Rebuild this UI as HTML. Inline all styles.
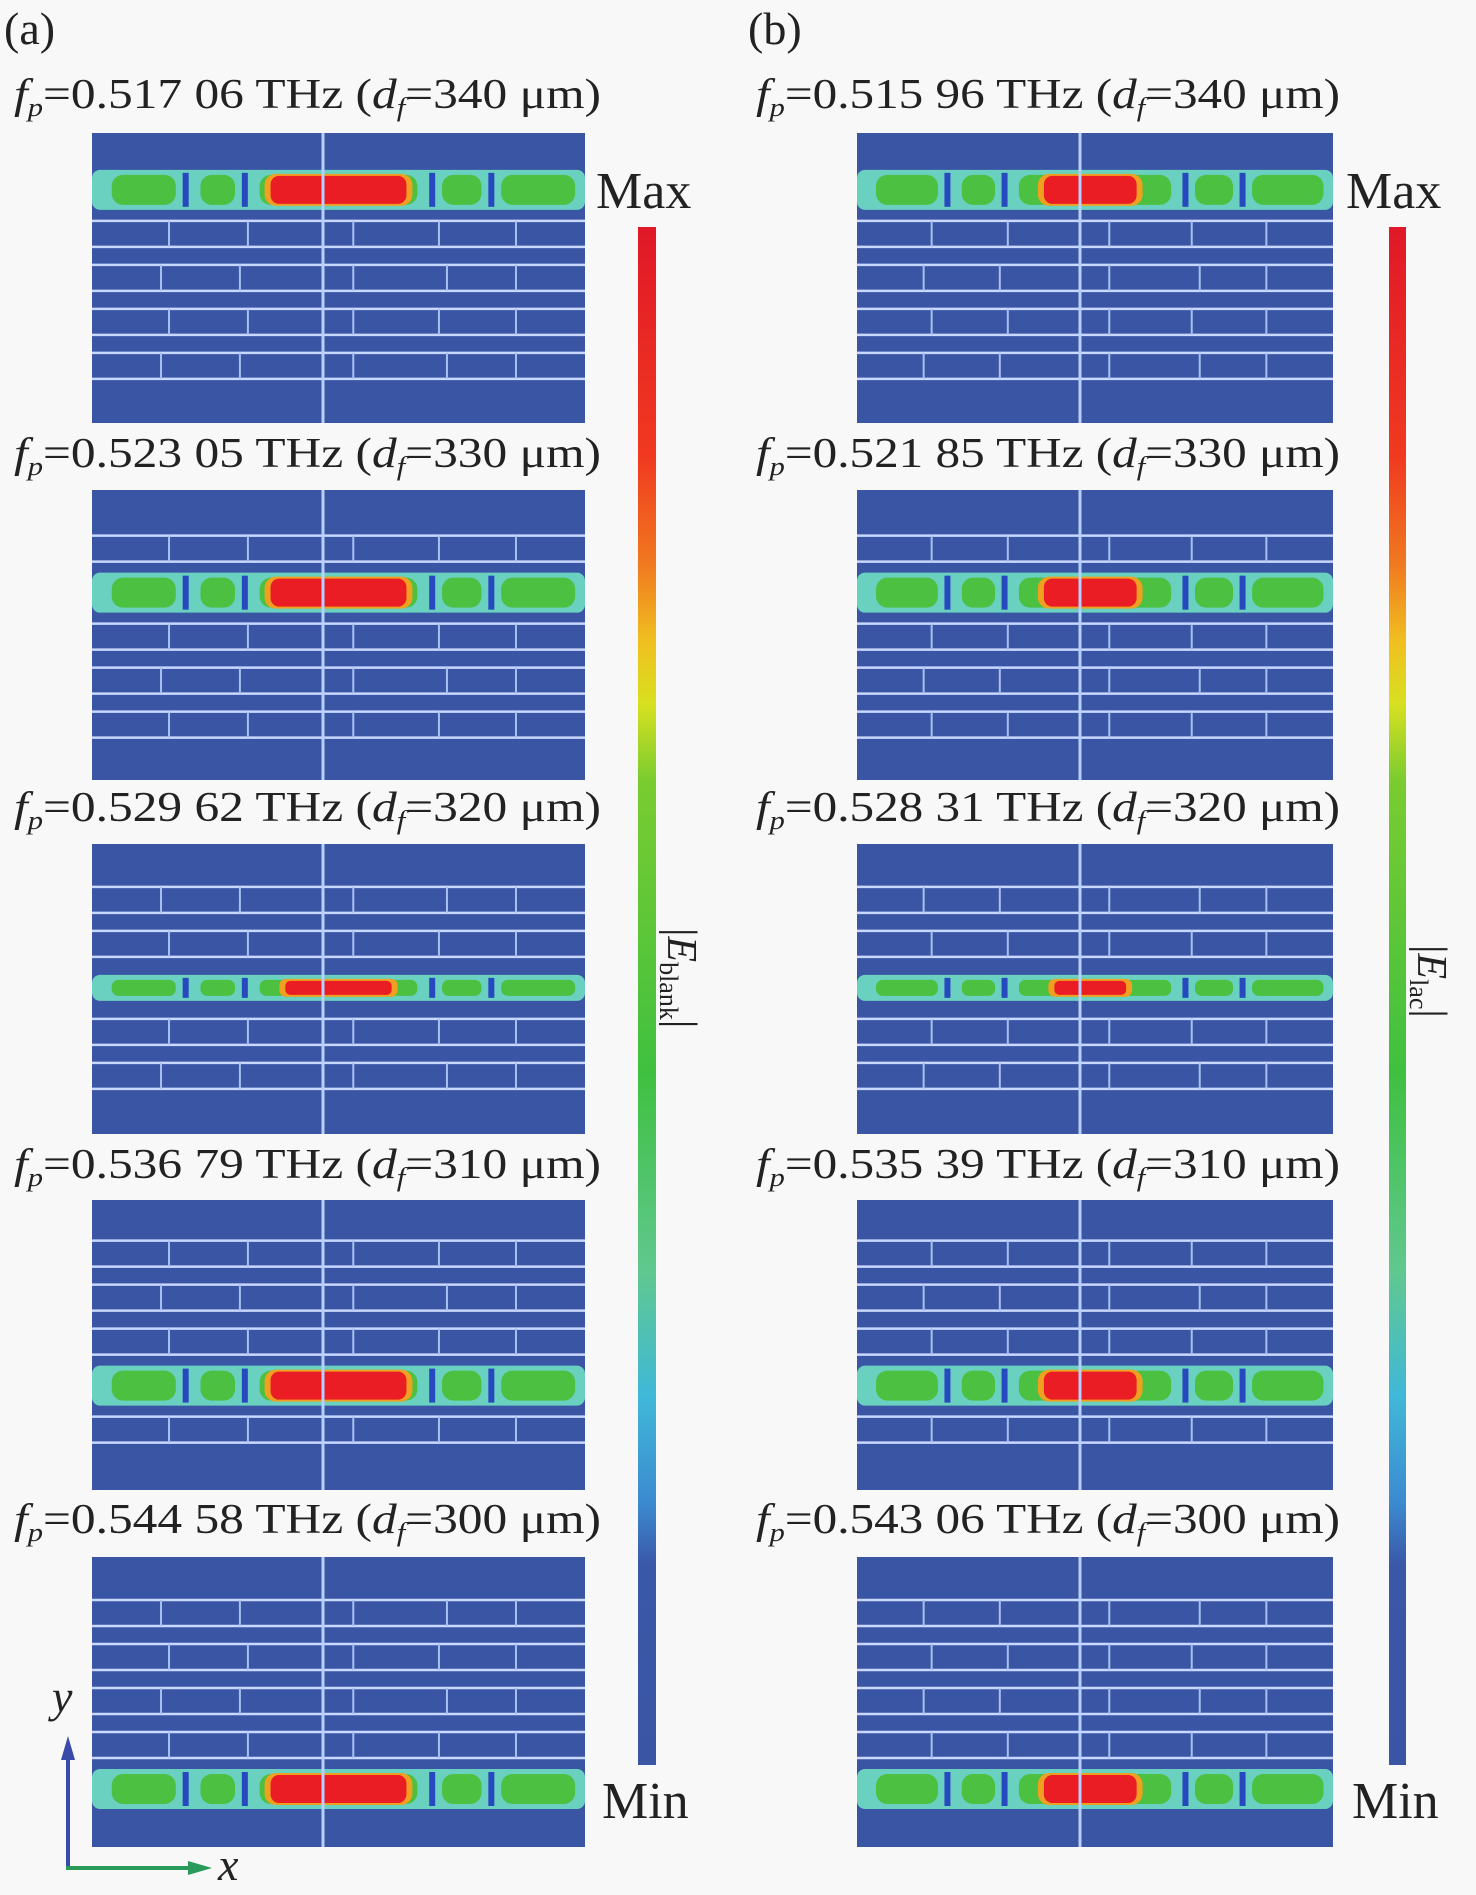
<!DOCTYPE html>
<html><head><meta charset="utf-8"><style>
html,body{margin:0;padding:0;background:#f8f8f8}
svg{display:block}
text{font-family:"Liberation Serif",serif;fill:#222}
</style></head><body>
<svg id="s" width="1476" height="1895" viewBox="0 0 1476 1895" xmlns="http://www.w3.org/2000/svg">
<defs>
<linearGradient id="cb" x1="0" y1="0" x2="0" y2="1">
<stop offset="0" stop-color="#e01828"/><stop offset="0.15" stop-color="#f03a20"/>
<stop offset="0.22" stop-color="#f07a20"/><stop offset="0.27" stop-color="#f0c020"/>
<stop offset="0.31" stop-color="#d8e020"/><stop offset="0.36" stop-color="#7acc30"/>
<stop offset="0.55" stop-color="#40c040"/><stop offset="0.68" stop-color="#60c890"/>
<stop offset="0.76" stop-color="#40b8d8"/><stop offset="0.83" stop-color="#3c8ad0"/>
<stop offset="0.87" stop-color="#3a58a8"/><stop offset="1" stop-color="#3a55a4"/>
</linearGradient>
</defs>
<g id="g"></g>
<text x="4" y="44" font-size="46">(a)</text>
<text x="748" y="44" font-size="46">(b)</text>
<g font-size="42">
<text x="14" y="108" textLength="587" lengthAdjust="spacingAndGlyphs"><tspan font-style="italic">f</tspan><tspan font-style="italic" font-size="26" dy="8">p</tspan><tspan dy="-8">=0.517 06 THz (</tspan><tspan font-style="italic">d</tspan><tspan font-style="italic" font-size="26" dy="8">f</tspan><tspan dy="-8">=340 μm)</tspan></text>
<text x="14" y="467" textLength="587" lengthAdjust="spacingAndGlyphs"><tspan font-style="italic">f</tspan><tspan font-style="italic" font-size="26" dy="8">p</tspan><tspan dy="-8">=0.523 05 THz (</tspan><tspan font-style="italic">d</tspan><tspan font-style="italic" font-size="26" dy="8">f</tspan><tspan dy="-8">=330 μm)</tspan></text>
<text x="14" y="821" textLength="587" lengthAdjust="spacingAndGlyphs"><tspan font-style="italic">f</tspan><tspan font-style="italic" font-size="26" dy="8">p</tspan><tspan dy="-8">=0.529 62 THz (</tspan><tspan font-style="italic">d</tspan><tspan font-style="italic" font-size="26" dy="8">f</tspan><tspan dy="-8">=320 μm)</tspan></text>
<text x="14" y="1178" textLength="587" lengthAdjust="spacingAndGlyphs"><tspan font-style="italic">f</tspan><tspan font-style="italic" font-size="26" dy="8">p</tspan><tspan dy="-8">=0.536 79 THz (</tspan><tspan font-style="italic">d</tspan><tspan font-style="italic" font-size="26" dy="8">f</tspan><tspan dy="-8">=310 μm)</tspan></text>
<text x="14" y="1533" textLength="587" lengthAdjust="spacingAndGlyphs"><tspan font-style="italic">f</tspan><tspan font-style="italic" font-size="26" dy="8">p</tspan><tspan dy="-8">=0.544 58 THz (</tspan><tspan font-style="italic">d</tspan><tspan font-style="italic" font-size="26" dy="8">f</tspan><tspan dy="-8">=300 μm)</tspan></text>
<text x="756" y="108" textLength="584" lengthAdjust="spacingAndGlyphs"><tspan font-style="italic">f</tspan><tspan font-style="italic" font-size="26" dy="8">p</tspan><tspan dy="-8">=0.515 96 THz (</tspan><tspan font-style="italic">d</tspan><tspan font-style="italic" font-size="26" dy="8">f</tspan><tspan dy="-8">=340 μm)</tspan></text>
<text x="756" y="467" textLength="584" lengthAdjust="spacingAndGlyphs"><tspan font-style="italic">f</tspan><tspan font-style="italic" font-size="26" dy="8">p</tspan><tspan dy="-8">=0.521 85 THz (</tspan><tspan font-style="italic">d</tspan><tspan font-style="italic" font-size="26" dy="8">f</tspan><tspan dy="-8">=330 μm)</tspan></text>
<text x="756" y="821" textLength="584" lengthAdjust="spacingAndGlyphs"><tspan font-style="italic">f</tspan><tspan font-style="italic" font-size="26" dy="8">p</tspan><tspan dy="-8">=0.528 31 THz (</tspan><tspan font-style="italic">d</tspan><tspan font-style="italic" font-size="26" dy="8">f</tspan><tspan dy="-8">=320 μm)</tspan></text>
<text x="756" y="1178" textLength="584" lengthAdjust="spacingAndGlyphs"><tspan font-style="italic">f</tspan><tspan font-style="italic" font-size="26" dy="8">p</tspan><tspan dy="-8">=0.535 39 THz (</tspan><tspan font-style="italic">d</tspan><tspan font-style="italic" font-size="26" dy="8">f</tspan><tspan dy="-8">=310 μm)</tspan></text>
<text x="756" y="1533" textLength="584" lengthAdjust="spacingAndGlyphs"><tspan font-style="italic">f</tspan><tspan font-style="italic" font-size="26" dy="8">p</tspan><tspan dy="-8">=0.543 06 THz (</tspan><tspan font-style="italic">d</tspan><tspan font-style="italic" font-size="26" dy="8">f</tspan><tspan dy="-8">=300 μm)</tspan></text>
<text x="596" y="208" font-size="52">Max</text>
<text x="602" y="1818" font-size="52">Min</text>
<text x="1346" y="208" font-size="52">Max</text>
<text x="1352" y="1818" font-size="52">Min</text>
</g>
<rect x="638" y="227" width="18" height="1538" fill="url(#cb)"/>
<rect x="1389" y="227" width="17" height="1538" fill="url(#cb)"/>
<text font-size="42" transform="translate(668,928) rotate(90)">|<tspan font-style="italic">E</tspan><tspan font-size="26" dy="8">blank</tspan><tspan dy="-8">|</tspan></text>
<text font-size="42" transform="translate(1418,945) rotate(90)">|<tspan font-style="italic">E</tspan><tspan font-size="26" dy="8">lac</tspan><tspan dy="-8">|</tspan></text>
<line x1="68" y1="1868" x2="68" y2="1750" stroke="#3a4aa8" stroke-width="4"/>
<polygon points="68,1736 61,1760 75,1760" fill="#3a4aa8"/>
<line x1="66" y1="1868" x2="196" y2="1868" stroke="#2a9a5a" stroke-width="4"/>
<polygon points="212,1868 188,1861 188,1875" fill="#2a9a5a"/>
<text x="52" y="1712" font-size="46" font-style="italic">y</text>
<text x="218" y="1880" font-size="46" font-style="italic">x</text>
</svg>
<script>
var g=document.getElementById('g'),h='';
var tops=[133,490,844,1200,1557],ph=290;
var bandF=[0.196,0.354,0.496,0.64,0.8];
var P=[{x0:92,x1:585,cl:323},{x0:857,x1:1333,cl:1080}];
P.forEach(function(p,pi){
 var w=p.x1-p.x0;
 tops.forEach(function(t,ri){
  h+='<rect x="'+p.x0+'" y="'+t+'" width="'+w+'" height="'+ph+'" fill="#3a55a4"/>';
  var by=t+bandF[ri]*ph;
  for(var k=-6;k<=6;k++){ if(k==0)continue;
   var cy=by+k*44; if(cy-13<t+4||cy+13>t+ph-4)continue;
   h+='<line x1="'+p.x0+'" x2="'+p.x1+'" y1="'+(cy-13)+'" y2="'+(cy-13)+'" stroke="#c8d8ff" stroke-width="2.5"/>';
   h+='<line x1="'+p.x0+'" x2="'+p.x1+'" y1="'+(cy+13)+'" y2="'+(cy+13)+'" stroke="#c8d8ff" stroke-width="2.5"/>';
   var off=(k%2?8:0);
   [0.14+off/w,0.30+off/w,0.53,0.72-off/w,0.86].forEach(function(f){var x=p.x0+f*w;
    h+='<line x1="'+x+'" x2="'+x+'" y1="'+(cy-13)+'" y2="'+(cy+13)+'" stroke="#a8c0f0" stroke-width="2"/>';});
  }
  var bh=ri==2?20:34;
  h+='<rect x="'+p.x0+'" y="'+(by-bh/2-3)+'" width="'+w+'" height="'+(bh+6)+'" rx="8" fill="#6ad0c0"/>';
  var blobs=[[0.04,0.17],[0.22,0.29],[0.34,0.66],[0.71,0.79],[0.83,0.98]];
  blobs.forEach(function(b,bi){
   h+='<rect x="'+(p.x0+b[0]*w)+'" y="'+(by-bh/2+2)+'" width="'+((b[1]-b[0])*w)+'" height="'+(bh-4)+'" rx="'+(bh/3)+'" fill="#4cc040"/>';
  });
  [0.19,0.31,0.69,0.81].forEach(function(f){h+='<rect x="'+(p.x0+f*w-3)+'" y="'+(by-bh/2)+'" width="6" height="'+bh+'" fill="#2848c0"/>';});
  var rw=(pi==0?0.30:0.22)*w*(ri==2?0.8:1);
  var cx=p.x0+(pi==0?0.5:0.49)*w;
  h+='<rect x="'+(cx-rw/2)+'" y="'+(by-bh/2+1)+'" width="'+rw+'" height="'+(bh-2)+'" rx="'+(bh/3)+'" fill="#f0a020"/>';
  h+='<rect x="'+(cx-rw/2+6)+'" y="'+(by-bh/2+3)+'" width="'+(rw-12)+'" height="'+(bh-6)+'" rx="'+(bh/4)+'" fill="#ea1c24"/>';
  h+='<line x1="'+p.cl+'" x2="'+p.cl+'" y1="'+t+'" y2="'+(t+ph)+'" stroke="#b8d0ff" stroke-width="3"/>';
 });
});
g.innerHTML=h;
</script>
</body></html>
